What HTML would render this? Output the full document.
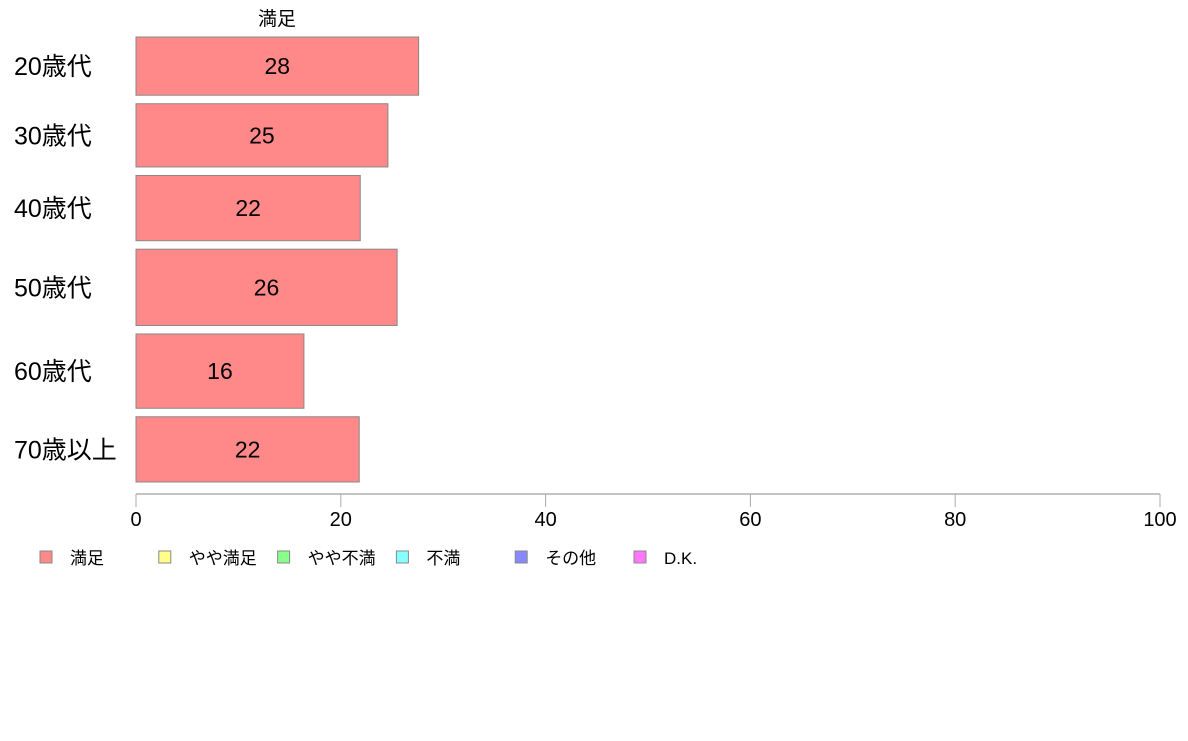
<!DOCTYPE html>
<html><head><meta charset="utf-8"><style>
body{margin:0;background:#fff;width:1188px;height:736px;overflow:hidden}
svg text{font-family:"Liberation Sans","Noto Sans CJK JP",sans-serif}
</style></head><body>
<svg id="chart" width="1188" height="736" xmlns="http://www.w3.org/2000/svg">
<text x="277" y="25" font-size="19" text-anchor="middle">満足</text>
<g id="bars"></g>
<g id="axis"></g>
<g id="legend"></g>
</svg>
<script>
const categories = ["20歳代","30歳代","40歳代","50歳代","60歳代","70歳以上"];
const values = [27.6, 24.6, 21.9, 25.5, 16.4, 21.8];
const rowWeights = [58, 63, 65, 76, 74, 65];
const tickLabels = [0, 20, 40, 60, 80, 100];
const legendLabels = ["満足","やや満足","やや不満","不満","その他","D.K."];
const legendColors = ["#ff8888","#ffff88","#88ff88","#88ffff","#8888ff","#ff77ff"];
const NS = "http://www.w3.org/2000/svg";
const x0 = 136, x1 = 1160, plotTop = 37, plotBottom = 482, gap = 8.5;
const xs = v => x0 + (v - 0) / 100 * (x1 - x0);
const totalW = rowWeights.reduce((a,b)=>a+b,0);
const avail = plotBottom - plotTop - gap * (categories.length - 1);
function mk(tag, attrs, parent){const e=document.createElementNS(NS,tag);for(const k in attrs)e.setAttribute(k,attrs[k]);parent.appendChild(e);return e;}
const bars = document.getElementById('bars');
let yPos = plotTop;
categories.forEach((c,i)=>{
  const h = rowWeights[i] / totalW * avail;
  const r = mk('rect',{x:x0,y:yPos,width:xs(values[i])-x0,height:h,fill:'#ff8888',stroke:'#888','stroke-width':1},bars);
  
  
  const v = mk('text',{x:(x0+xs(values[i]))/2,y:yPos+h/2+8,'font-size':23,'text-anchor':'middle'},bars);
  v.textContent = Math.round(values[i]);
  
  
  const l = mk('text',{x:14,y:yPos+h/2+9,'font-size':25},bars);
  l.textContent = c;
  
  
  yPos += h + gap;
});
const axis = document.getElementById('axis');
const al = mk('line',{x1:x0,x2:x1,y1:494,y2:494,stroke:'#888'},axis);


tickLabels.forEach(t=>{
  const tk = mk('line',{x1:xs(t),x2:xs(t),y1:494,y2:507,stroke:'#aaa'},axis);
  
  
  const tt = mk('text',{x:xs(t),y:526,'font-size':20,'text-anchor':'middle'},axis);
  tt.textContent = t;
  
  
});
const lg = document.getElementById('legend');
legendLabels.forEach((n,i)=>{
  const lx = 40 + i*118.8;
  const b = mk('rect',{x:lx,y:551,width:12,height:12,fill:legendColors[i],stroke:'#888'},lg);
  
  
  const t = mk('text',{x:lx+30,y:564,'font-size':17},lg);
  t.textContent = n;
  
  
});
</script>
</body></html>
